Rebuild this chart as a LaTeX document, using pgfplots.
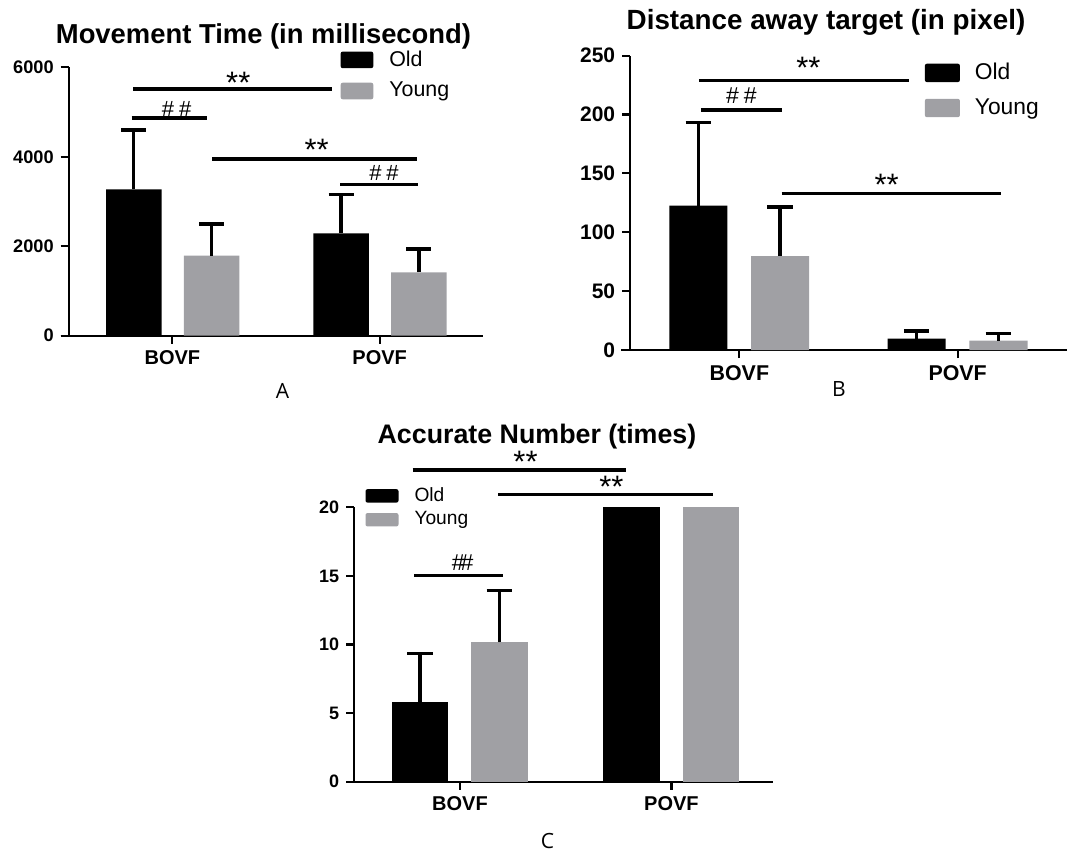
\documentclass[border=0pt]{standalone}
\usepackage{pgfplots}
\pgfplotsset{compat=1.18}
\usepackage{fontspec}
\setmainfont{Liberation Sans}
\newfontfamily\lettfont{Open Sans}
\definecolor{ygray}{RGB}{160,160,164}

\pgfplotsset{
  panel/.style={
    scale only axis, axis lines*=left, clip=false,
    axis line style={line width=1.1pt, black},
    tick style={line width=1.1pt, black},
    major tick length=4pt, tick align=outside,
    xtick={0,1}, xticklabels={BOVF,POVF},
    /pgf/number format/assume math mode=true,
    /pgf/number format/1000 sep={},
    ymin=0,
    legend cell align=left,
    legend style={draw=none, fill=none, inner sep=0pt, outer sep=0pt, anchor=north west},
  },
  errs/.style={error bars/y dir=plus, error bars/y explicit,
    error bars/error bar style={line width=1.7pt, black},
    error bars/error mark options={rotate=90, line width=1.7pt, black, mark size=#1}},
  sig/.style={black, line width=1.7pt, no marks, forget plot},
  stub/.style={black, line width=1.1pt, no marks, forget plot},
}

\begin{document}
\begin{tikzpicture}
\useasboundingbox (0pt,0pt) rectangle (539pt,-425.5pt);

% ---------------- Panel A ----------------
\begin{axis}[panel,
  at={(34.35pt,-167.85pt)}, anchor=south west,
  width=207.3pt, height=134.2pt,
  xmin=-0.5, xmax=1.5, ymax=6000,
  ytick={0,2000,4000,6000},
  yticklabel style={font=\fontsize{9.1}{10}\bfseries\selectfont},
  xticklabel style={font=\fontsize{10}{11}\bfseries\selectfont},
  legend style={at={(0.656,1.077)}, font=\fontsize{10.7}{12}\selectfont, row sep=2.5pt},
]
\addplot[ybar, bar width=0.268, bar shift=0pt, fill=black, draw=none, errs=6.25pt,
  legend image code/.code={\fill[black, rounded corners=1pt] (0pt,-4.15pt) rectangle (16.3pt,4.15pt);}]
  coordinates {(-0.186,3271) +- (0,1327) (0.814,2288) +- (0,872)};
\addlegendentry{\hspace{6pt}Old}
\addplot[ybar, bar width=0.268, bar shift=0pt, fill=ygray, draw=none, errs=6.25pt,
  legend image code/.code={\fill[ygray, rounded corners=1pt] (0pt,-4.15pt) rectangle (16.3pt,4.15pt);}]
  coordinates {(0.189,1788) +- (0,708) (1.189,1416) +- (0,521)};
\addlegendentry{\hspace{6pt}Young}
\addplot[stub] coordinates {(-0.539,0) (-0.5,0)};
\addplot[sig] coordinates {(-0.188,5514) (0.772,5514)};
\addplot[sig] coordinates {(-0.196,4866) (0.166,4866)};
\addplot[sig] coordinates {(0.193,3949) (1.178,3949)};
\addplot[sig] coordinates {(0.809,3383) (1.186,3383)};
\node[anchor=base, font=\fontsize{15.5}{16}\selectfont, yshift=-2.15pt] at (axis cs:0.318,5514) {**};
\node[anchor=base, font=\fontsize{15.5}{16}\selectfont, yshift=-0.65pt] at (axis cs:0.696,3949) {**};
\node[anchor=base, font=\fontsize{11}{12}\selectfont, yshift=1pt] at (axis cs:0.021,4866) {\#\hspace{2.5pt}\#};
\node[anchor=base, font=\fontsize{11}{12}\selectfont, yshift=2pt] at (axis cs:1.021,3383) {\#\hspace{2.5pt}\#};
\end{axis}

% ---------------- Panel B ----------------
\begin{axis}[panel,
  at={(315.1pt,-175pt)}, anchor=south west,
  width=218.3pt, height=147.2pt,
  xmin=-0.5, xmax=1.5, ymax=250,
  ytick={0,50,100,150,200,250},
  yticklabel style={font=\fontsize{10.5}{11}\bfseries\selectfont},
  xticklabel style={font=\fontsize{10.7}{12}\bfseries\selectfont},
  legend style={at={(0.675,0.988)}, font=\fontsize{11.4}{13}\selectfont, row sep=4pt},
]
\addplot[ybar, bar width=0.266, bar shift=0pt, fill=black, draw=none, errs=6.4pt,
  legend image code/.code={\fill[black, rounded corners=1pt] (0pt,-4.6pt) rectangle (17.5pt,4.6pt);}]
  coordinates {(-0.188,122.6) +- (0,70.5) (0.812,9.6) +- (0,6.5)};
\addlegendentry{\hspace{5.5pt}Old}
\addplot[ybar, bar width=0.266, bar shift=0pt, fill=ygray, draw=none, errs=6.4pt,
  legend image code/.code={\fill[ygray, rounded corners=1pt] (0pt,-4.6pt) rectangle (17.5pt,4.6pt);}]
  coordinates {(0.187,79.8) +- (0,41.7) (1.187,7.9) +- (0,6.3)};
\addlegendentry{\hspace{5.5pt}Young}
\addplot[stub] coordinates {(-0.541,0) (-0.5,0)};
\addplot[sig] coordinates {(-0.185,229) (0.779,229)};
\addplot[sig] coordinates {(-0.176,203.8) (0.194,203.8)};
\addplot[sig] coordinates {(0.194,132.8) (1.20,132.8)};
\node[anchor=base, font=\fontsize{15.5}{16}\selectfont, yshift=1pt] at (axis cs:0.316,229) {**};
\node[anchor=base, font=\fontsize{15.5}{16}\selectfont, yshift=-0.8pt] at (axis cs:0.675,132.8) {**};
\node[anchor=base, font=\fontsize{11.5}{12}\selectfont, yshift=3.5pt] at (axis cs:0.009,203.8) {\#\hspace{2.5pt}\#};
\end{axis}

% ---------------- Panel C ----------------
\begin{axis}[panel,
  at={(177.1pt,-390.85pt)}, anchor=south west,
  width=209.4pt, height=137.2pt,
  xmin=-0.5, xmax=1.48, ymax=20,
  ytick={0,5,10,15,20},
  yticklabel style={font=\fontsize{9}{10}\bfseries\selectfont},
  xticklabel style={font=\fontsize{10}{11}\bfseries\selectfont},
  legend style={at={(0.027,1.087)}, font=\fontsize{9.6}{11}\selectfont, row sep=-0.35pt},
]
\addplot[ybar, bar width=0.267, bar shift=0pt, fill=black, draw=none, errs=6.4pt,
  legend image code/.code={\fill[black, rounded corners=1pt] (0pt,-3.35pt) rectangle (16.5pt,3.35pt);}]
  coordinates {(-0.189,5.83) +- (0,3.53)};
\addlegendentry{\hspace{6pt}Old}
\addplot[ybar, bar width=0.267, bar shift=0pt, fill=ygray, draw=none, errs=6.4pt,
  legend image code/.code={\fill[ygray, rounded corners=1pt] (0pt,-3.35pt) rectangle (16.5pt,3.35pt);}]
  coordinates {(0.186,10.16) +- (0,3.76)};
\addlegendentry{\hspace{6pt}Young}
\addplot[ybar, bar width=0.267, bar shift=0pt, fill=black, draw=none, forget plot]
  coordinates {(0.81,20)};
\addplot[ybar, bar width=0.267, bar shift=0pt, fill=ygray, draw=none, forget plot]
  coordinates {(1.186,20)};
\addplot[stub] coordinates {(-0.535,0) (-0.5,0)};
\addplot[sig] coordinates {(-0.224,22.72) (0.784,22.72)};
\addplot[sig] coordinates {(0.182,20.92) (1.197,20.92)};
\addplot[sig] coordinates {(-0.216,15.02) (0.205,15.02)};
\node[anchor=base, font=\fontsize{15.5}{16}\selectfont, yshift=-1.15pt] at (axis cs:0.31,22.72) {**};
\node[anchor=base, font=\fontsize{15.5}{16}\selectfont, yshift=-1.3pt] at (axis cs:0.716,20.92) {**};
\node[anchor=base, font=\fontsize{11.5}{12}\selectfont, yshift=2.8pt] at (axis cs:0.013,15.02) {\#\kern-2pt\#};
\end{axis}

% titles and panel letters
\node[anchor=base, font=\fontsize{13.7}{16}\bfseries\selectfont] at (131.75pt,-21.5pt) {Movement Time (in millisecond)};
\node[anchor=base, font=\fontsize{13.9}{16}\bfseries\selectfont] at (413pt,-14.75pt) {Distance away target (in pixel)};
\node[anchor=base, font=\fontsize{13.4}{16}\bfseries\selectfont] at (268.5pt,-221.5pt) {Accurate Number (times)};
\node[anchor=base, font=\lettfont\fontsize{10.5}{12}\selectfont] at (141.25pt,-199pt) {A};
\node[anchor=base, font=\lettfont\fontsize{10.5}{12}\selectfont] at (419.5pt,-198.3pt) {B};
\node[anchor=base, font=\lettfont\fontsize{10.5}{12}\selectfont] at (273.75pt,-424.3pt) {C};
\end{tikzpicture}
\end{document}
